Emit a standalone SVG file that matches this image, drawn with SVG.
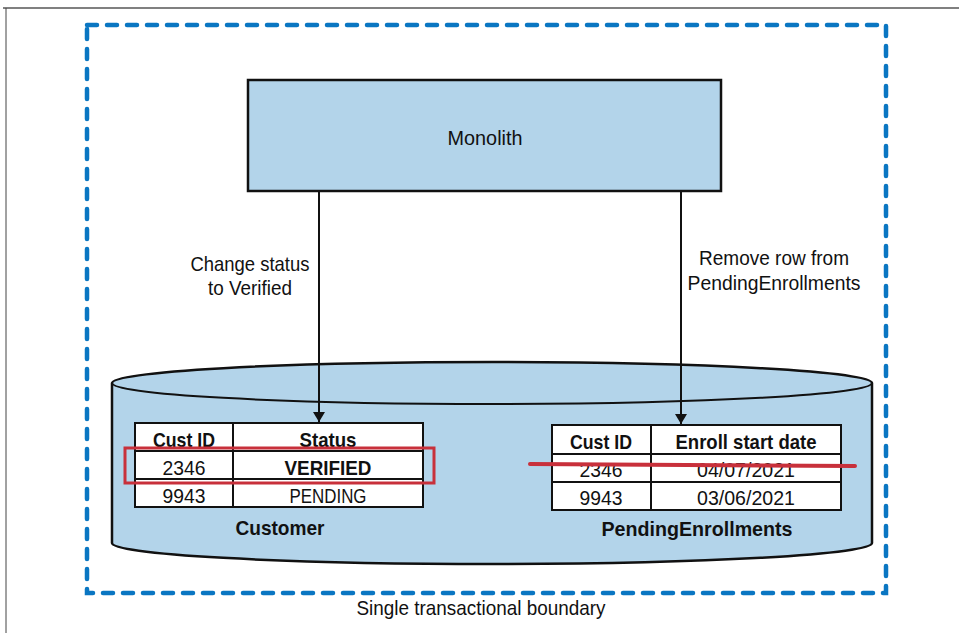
<svg xmlns="http://www.w3.org/2000/svg" width="959" height="633" viewBox="0 0 959 633">
<defs>
<style>
.t{font-family:"Liberation Sans",Arial,sans-serif;fill:#111;font-size:21px;}
.b{font-weight:bold;}
.fill{fill:#b3d4ea;stroke:#111;stroke-width:2.5;}
.cell{fill:#fff;stroke:#111;stroke-width:2;}
.conn{stroke:#111;stroke-width:2;fill:none;}
.red{stroke:#c8303b;fill:none;}
</style>
<marker id="arr" viewBox="0 0 10 12" refX="10" refY="6" markerWidth="10" markerHeight="12" markerUnits="userSpaceOnUse" orient="auto">
<path d="M0,0 L10,6 L0,12 Z" fill="#111"/>
</marker>
</defs>
<rect x="0" y="0" width="959" height="633" fill="#fff"/>
<line x1="3" y1="8" x2="959" y2="8" stroke="#808080" stroke-width="2"/>
<line x1="6" y1="8" x2="6" y2="633" stroke="#444" stroke-width="1"/>

<g id="boundary">
<rect x="87" y="25" width="799" height="568" fill="none" stroke="#0a76c2" stroke-width="4.5" stroke-dasharray="10 10" stroke-linecap="round"/>
<text class="t" x="481" y="615" text-anchor="middle" textLength="249" lengthAdjust="spacingAndGlyphs">Single transactional boundary</text>
</g>

<g id="monolith">
<rect class="fill" x="248" y="80" width="473" height="111"/>
<text class="t" x="485" y="145" text-anchor="middle" textLength="75" lengthAdjust="spacingAndGlyphs">Monolith</text>
</g>

<g id="database">
<path class="fill" d="M112,383 L112,543 A380,21 0 0 0 872,543 L872,383 A380,21 0 0 0 112,383 Z"/>
<path class="conn" d="M112,383 A380,21 0 0 0 872,383" stroke-width="2.5"/>
</g>

<g id="customer">
<rect class="cell" x="135" y="423" width="288" height="84"/>
<line class="conn" x1="233" y1="423" x2="233" y2="507"/>
<line class="conn" x1="135" y1="451" x2="423" y2="451"/>
<line class="conn" x1="135" y1="479" x2="423" y2="479"/>
<text class="t b" x="184" y="447" text-anchor="middle" textLength="62" lengthAdjust="spacingAndGlyphs">Cust ID</text>
<text class="t b" x="328" y="447" text-anchor="middle" textLength="57" lengthAdjust="spacingAndGlyphs">Status</text>
<text class="t" x="184" y="475" text-anchor="middle" textLength="43" lengthAdjust="spacingAndGlyphs">2346</text>
<text class="t b" x="328" y="475" text-anchor="middle" textLength="87" lengthAdjust="spacingAndGlyphs">VERIFIED</text>
<text class="t" x="184" y="503" text-anchor="middle" textLength="43" lengthAdjust="spacingAndGlyphs">9943</text>
<text class="t" x="328" y="503" text-anchor="middle" textLength="77" lengthAdjust="spacingAndGlyphs">PENDING</text>
<rect class="red" x="125" y="448" width="309" height="35" stroke-width="3"/>
<text class="t b" x="280" y="535" text-anchor="middle" textLength="89" lengthAdjust="spacingAndGlyphs">Customer</text>
</g>

<g id="pending">
<rect class="cell" x="552" y="425" width="289" height="85"/>
<line class="conn" x1="651" y1="425" x2="651" y2="510"/>
<line class="conn" x1="552" y1="454" x2="841" y2="454"/>
<line class="conn" x1="552" y1="482" x2="841" y2="482"/>
<text class="t b" x="601" y="449" text-anchor="middle" textLength="62" lengthAdjust="spacingAndGlyphs">Cust ID</text>
<text class="t b" x="746" y="449" text-anchor="middle" textLength="141" lengthAdjust="spacingAndGlyphs">Enroll start date</text>
<text class="t" x="601" y="477" text-anchor="middle" textLength="43" lengthAdjust="spacingAndGlyphs">2346</text>
<text class="t" x="746" y="477" text-anchor="middle" textLength="98" lengthAdjust="spacingAndGlyphs">04/07/2021</text>
<text class="t" x="601" y="505" text-anchor="middle" textLength="43" lengthAdjust="spacingAndGlyphs">9943</text>
<text class="t" x="746" y="505" text-anchor="middle" textLength="98" lengthAdjust="spacingAndGlyphs">03/06/2021</text>
<line class="red" x1="530" y1="464" x2="855" y2="466" stroke-width="4" stroke-linecap="round"/>
<text class="t b" x="697" y="536" text-anchor="middle" textLength="191" lengthAdjust="spacingAndGlyphs">PendingEnrollments</text>
</g>

<g id="connectors">
<line class="conn" x1="319" y1="191" x2="319" y2="422" marker-end="url(#arr)"/>
<line class="conn" x1="681" y1="191" x2="681" y2="424" marker-end="url(#arr)"/>
<text class="t" x="250" y="271" text-anchor="middle" textLength="119" lengthAdjust="spacingAndGlyphs">Change status</text>
<text class="t" x="250" y="295" text-anchor="middle" textLength="84" lengthAdjust="spacingAndGlyphs">to Verified</text>
<text class="t" x="774" y="265" text-anchor="middle" textLength="150" lengthAdjust="spacingAndGlyphs">Remove row from</text>
<text class="t" x="774" y="290" text-anchor="middle" textLength="173" lengthAdjust="spacingAndGlyphs">PendingEnrollments</text>
</g>
</svg>
